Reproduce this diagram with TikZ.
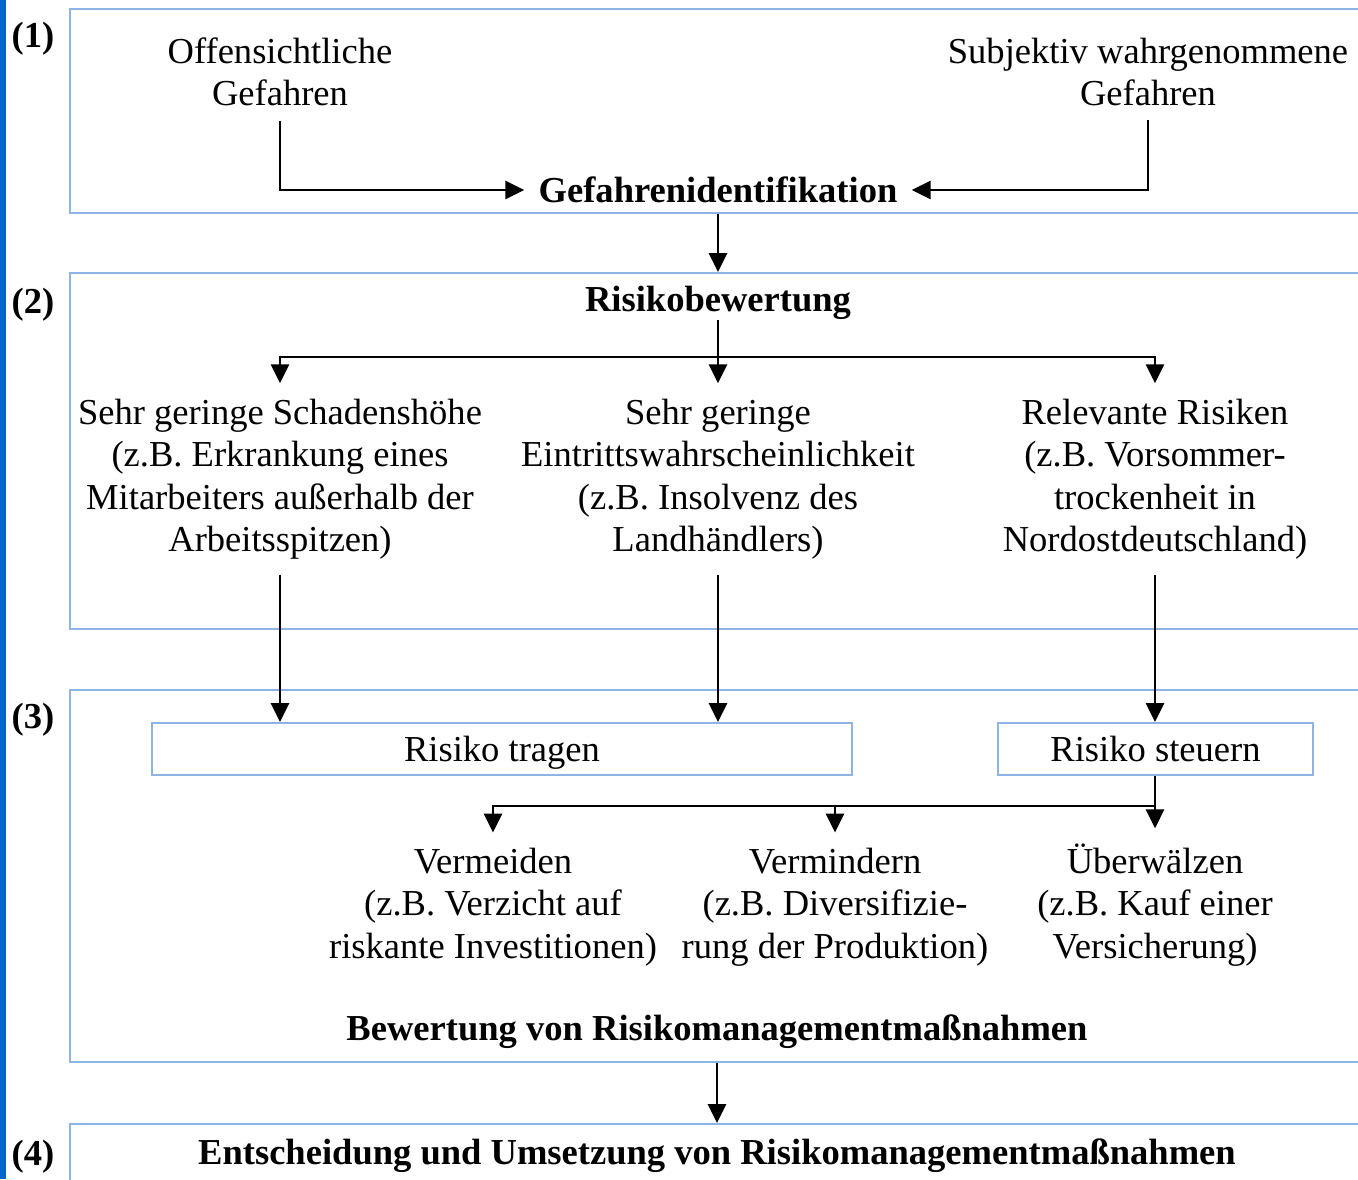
\documentclass[tikz,border=0pt]{standalone}
\usepackage{fontspec}
\setmainfont{Liberation Serif}
\usepackage{tikz}
\usetikzlibrary{arrows.meta, positioning, calc}

\definecolor{frameblue}{HTML}{8DB4E2}
\definecolor{barblue}{HTML}{0066CC}

\begin{document}
\begin{tikzpicture}[x=0.02cm, y=-0.02cm,
  txt/.style={align=center, inner sep=0pt, font=\fontsize{20.8}{24.2}\selectfont},
  hd/.style={txt, font=\fontsize{20.8}{24.2}\selectfont\bfseries},
  frame/.style={rectangle, draw=frameblue, line width=0.04cm, inner sep=0pt, minimum width=25.84cm},
  box/.style={rectangle, draw=frameblue, line width=0.04cm, inner sep=0pt, minimum height=1.04cm, text depth=0pt, font=\fontsize{20.8}{24.2}\selectfont},
  arr/.style={-{Triangle[length=0.38cm, width=0.36cm]}, line width=0.055cm},
]
\path[use as bounding box, clip] (0,0) rectangle (1358,1179);
\fill[barblue] (0,0) rectangle (6,1179);

% Frames
\node[frame, minimum height=4.08cm] (f1) at (716,111) {};
\node[frame, minimum height=7.12cm] (f2) at (716,451) {};
\node[frame, minimum height=7.44cm] (f3) at (716,876) {};
\node[frame, minimum height=1.52cm] (f4) at (716,1162) {};
\node[hd] (n1) at (33,39) {(1)};
\node[hd] (n2) at (33,305) {(2)};
\node[hd] (n3) at (33,720) {(3)};
\node[hd] (n4) at (33,1157) {(4)};

% (1) Gefahrenidentifikation
\node[txt, inner ysep=0.28cm] (offen) at (280,72) {Offensichtliche\\Gefahren};
\node[txt, inner ysep=0.28cm] (subj) at (1148,72) {Subjektiv wahrgenommene\\Gefahren};
\node[hd, inner xsep=0.28cm] (gid) at (718,190) {Gefahrenidentifikation};

% (2) Risikobewertung
\node[hd] (rb) at (718,303) {Risikobewertung};
\coordinate (split) at (718,357);
\node[txt, inner ysep=0.3cm] (gering) at (280,479) {Sehr geringe Schadenshöhe\\(z.B. Erkrankung eines\\Mitarbeiters außerhalb der\\Arbeitsspitzen)};
\node[txt, inner ysep=0.3cm] (eintritt) at (718,479) {Sehr geringe\\Eintrittswahrscheinlichkeit\\(z.B. Insolvenz des\\Landhändlers)};
\node[txt, inner ysep=0.3cm] (relev) at (1155,479) {Relevante Risiken\\(z.B. Vorsommer-\\trockenheit in\\Nordostdeutschland)};

% (3) Risikomanagement
\node[box, minimum width=14cm] (tragen) at (502,749) {Risiko tragen};
\node[box, minimum width=6.3cm] (steuern) at (1155.5,749) {Risiko steuern};
\coordinate (split2) at (1155,806);
\node[txt, inner ysep=0.3cm] (vermeid) at (493,907) {Vermeiden\\(z.B. Verzicht auf\\riskante Investitionen)};
\node[txt, inner ysep=0.3cm] (vermind) at (835,907) {Vermindern\\(z.B. Diversifizie-\\rung der Produktion)};
\node[txt, inner ysep=0.3cm] (ueberw) at (1155,905) {Überwälzen\\(z.B. Kauf einer\\Versicherung)};
\node[hd] (bew) at (717,1032) {Bewertung von Risikomanagementmaßnahmen};

% (4) Entscheidung
\node[hd] (ents) at (717,1156) {Entscheidung und Umsetzung von Risikomanagementmaßnahmen};

% Arrows
\draw[arr] (offen.south) |- (gid.west);
\draw[arr] (subj.south) |- (gid.east);
\draw[arr] (gid |- f1.south) -- (gid |- f2.north);
\draw[arr] (rb.south) -- (eintritt.north);
\draw[arr] (split) -| (gering.north);
\draw[arr] (split) -| (relev.north);
\draw[arr] (gering.south) -- (gering.south |- tragen.north);
\draw[arr] (eintritt.south) -- (eintritt.south |- tragen.north);
\draw[arr] (relev.south) -- (steuern.north -| relev.south);
\draw[arr] (steuern.south -| split2) -- (ueberw.north);
\draw[arr] (split2) -| (vermeid.north);
\draw[arr] (split2) -| (vermind.north);
\draw[arr] (bew |- f3.south) -- (bew |- f4.north);
\end{tikzpicture}
\end{document}
